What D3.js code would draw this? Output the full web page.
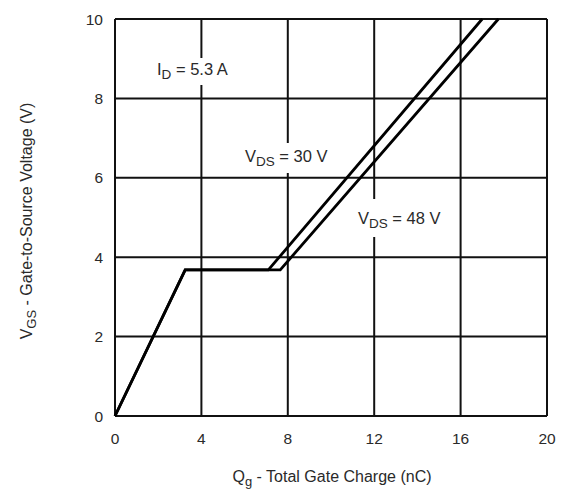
<!DOCTYPE html>
<html><head><meta charset="utf-8">
<script src="https://cdn.jsdelivr.net/npm/d3@7"></script>
<style>body{margin:0;background:#fff}svg{display:block}text{font-family:"Liberation Sans",Arial,sans-serif;fill:#2a2a2a}</style>
</head><body><svg id="c" width="566" height="491"></svg>
<script>
const xTicks=[0,4,8,12,16,20];
const yTicks=[0,2,4,6,8,10];
const vds30Q=[0,3.25,7.1,17.0];
const vds30V=[0,3.68,3.68,10];
const vds48Q=[0,3.25,7.65,17.75];
const vds48V=[0,3.68,3.68,10];

const svg=d3.select("#c");
const L=115,R=547,T=19,B=416;
const x=d3.scaleLinear().domain([0,20]).range([L,R]);
const y=d3.scaleLinear().domain([0,10]).range([B,T]);

const g=svg.append("g");
g.selectAll(".gx").data(xTicks).enter().append("line")
 .attr("x1",d=>x(d)).attr("x2",d=>x(d)).attr("y1",T).attr("y2",B)
 .attr("stroke","#111").attr("stroke-width",2);
g.selectAll(".gy").data(yTicks).enter().append("line")
 .attr("y1",d=>y(d)).attr("y2",d=>y(d)).attr("x1",L).attr("x2",R)
 .attr("stroke","#111").attr("stroke-width",2);

function lab(xp,yp,main,sub,rest,gx,gy0,gy1){
  svg.append("rect").attr("x",gx-3).attr("y",gy0).attr("width",6).attr("height",gy1-gy0).attr("fill","#fff");
  const t=svg.append("text").attr("x",xp).attr("y",yp).attr("font-size",16.5);
  t.append("tspan").text(main);
  t.append("tspan").attr("dy",4).attr("font-size",13.5).text(sub);
  t.append("tspan").attr("dy",-4).text(rest);
}
lab(157,75,"I","D"," = 5.3 A",x(4),58,85);
lab(245,162,"V","DS"," = 30 V",x(8),143,173);
lab(358,224,"V","DS"," = 48 V",x(12),199,237);

const line=d3.line().x(d=>x(d[0])).y(d=>y(d[1]));
[[vds30Q,vds30V],[vds48Q,vds48V]].forEach(([q,v])=>{
  svg.append("path").attr("d",line(q.map((d,i)=>[d,v[i]])))
   .attr("fill","none").attr("stroke","#000").attr("stroke-width",2.8).attr("stroke-linejoin","miter");
});

svg.selectAll(".tx").data(xTicks).enter().append("text")
 .attr("x",d=>x(d)).attr("y",444).attr("text-anchor","middle").attr("font-size",15.5).text(d=>d);
svg.selectAll(".ty").data(yTicks).enter().append("text")
 .attr("x",103).attr("y",d=>y(d)+5.5).attr("text-anchor","end").attr("font-size",15.5).text(d=>d);

const xl=svg.append("text").attr("x",332).attr("y",482).attr("text-anchor","middle").attr("font-size",16);
xl.append("tspan").text("Q");
xl.append("tspan").attr("dy",4).attr("font-size",13).text("g");
xl.append("tspan").attr("dy",-4).text(" - Total Gate Charge (nC)");
const yl=svg.append("text").attr("transform","translate(32,221) rotate(-90)").attr("text-anchor","middle").attr("font-size",16);
yl.append("tspan").text("V");
yl.append("tspan").attr("dy",4).attr("font-size",13).text("GS");
yl.append("tspan").attr("dy",-4).text(" - Gate-to-Source Voltage (V)");
</script></body></html>
